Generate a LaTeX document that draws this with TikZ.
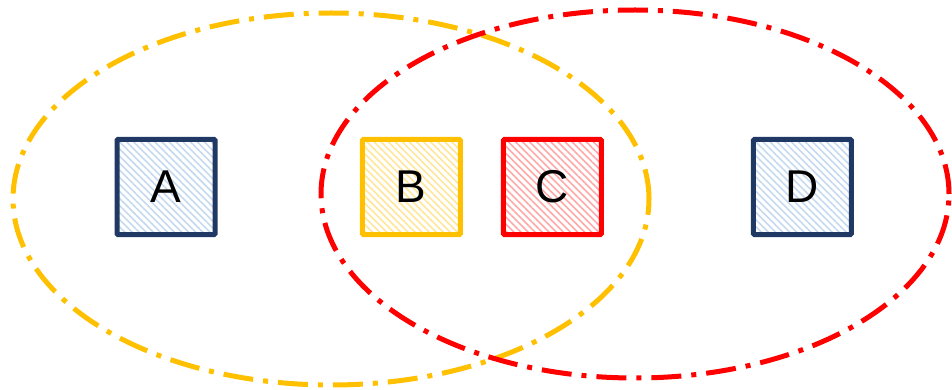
\documentclass[tikz,border=0pt]{standalone}
\usepackage{fontspec}
\setmainfont{Liberation Sans}
\usetikzlibrary{positioning,patterns.meta}
\definecolor{setnavy}{HTML}{1F3864}
\definecolor{setgold}{HTML}{FFC000}
\definecolor{setred}{HTML}{FF0000}
\definecolor{hatchblue}{HTML}{C5DAF0}
\definecolor{hatchgold}{HTML}{FFE699}
\definecolor{hatchred}{HTML}{FFA8A8}

\begin{document}
\begin{tikzpicture}[x=1pt,y=-1pt,node distance=144pt,
      elem/.style 2 args={draw=#1,line width=5pt,rounded corners=1pt,minimum width=98pt,minimum height=95pt,inner sep=0pt,
        font=\fontsize{46}{46}\selectfont,pattern={Lines[angle=-45,distance=5pt,line width=1.6pt]},pattern color=#2},
      group/.style={draw=#1,line width=5pt,dash pattern=on 30pt off 10pt on 5pt off 10pt}]
    \useasboundingbox (0,0) rectangle (952,390);
    \draw[group=setgold] (331,199) ellipse [x radius=318pt,y radius=186pt];
    \draw[group=setred] (635,194) ellipse [x radius=314pt,y radius=184pt];
    \node[elem={setnavy}{hatchblue}] (a) at (166,187) {A};
    \node[elem={setgold}{hatchgold},right=of a] (b) {B};
    \node[elem={setred}{hatchred},right=38pt of b] (c) {C};
    \node[elem={setnavy}{hatchblue},right=147pt of c] (d) {D};
  \end{tikzpicture}
\end{document}
